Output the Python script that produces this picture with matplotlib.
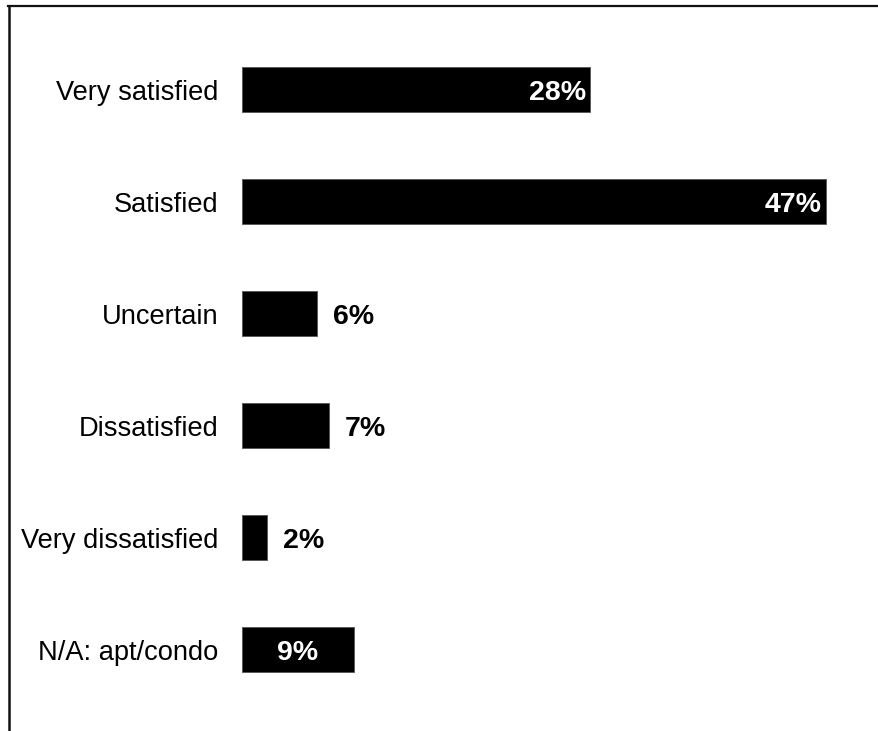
import matplotlib.pyplot as plt
from matplotlib.lines import Line2D

# chart data
categories = ['Very satisfied', 'Satisfied', 'Uncertain', 'Dissatisfied',
              'Very dissatisfied', 'N/A: apt/condo']
values = [28, 47, 6, 7, 2, 9]
# where each value label goes: inside at bar end, outside, or centred
label_place = ['end', 'end', 'out', 'out', 'out', 'center']

plt.rcParams['font.family'] = ['Liberation Sans', 'DejaVu Sans']

fig = plt.figure(figsize=(8.79, 7.31), dpi=100)
W, H = 879, 731

# axes placed so bars start at x=242 px, 12.43 px per percent
left_px, right_px = 242, 242 + 50 * 12.43
top_px, bot_px = 33.5, 705.5
ax = fig.add_axes([left_px / W, (H - bot_px) / H,
                   (right_px - left_px) / W, (bot_px - top_px) / H])

ypos = list(range(len(categories)))
ax.barh(ypos, values, height=0.40, color='black', edgecolor='#555555', linewidth=0.6)
ax.set_xlim(0, 50)
ax.set_ylim(len(categories) - 0.5, -0.5)

lbl = dict(fontsize=20.5, fontweight='bold', va='center', textcoords='offset points')
for y, v, place in zip(ypos, values, label_place):
    if place == 'end':
        ax.annotate(f'{v}%', (v, y), xytext=(-3, -2.5), ha='right', color='white', **lbl)
    elif place == 'center':
        ax.annotate(f'{v}%', (v / 2, y), xytext=(0, -2.5), ha='center', color='white', **lbl)
    else:
        ax.annotate(f'{v}%', (v, y), xytext=(11.5, -2.5), ha='left', color='black', **lbl)

ax.set_yticks(ypos)
ax.set_yticklabels(categories, fontsize=19.6)
ax.tick_params(axis='y', length=0, pad=17)
ax.set_xticks([])
for s in ax.spines.values():
    s.set_visible(False)

# outer frame: top and left edges only
fig.add_artist(Line2D([8 / W, 1], [1 - 6 / H, 1 - 6 / H], color='#111111', linewidth=1.6))
fig.add_artist(Line2D([8.5 / W, 8.5 / W], [0, 1 - 6 / H], color='#111111', linewidth=1.8))

fig.savefig('out.png', dpi=100, facecolor='white')
